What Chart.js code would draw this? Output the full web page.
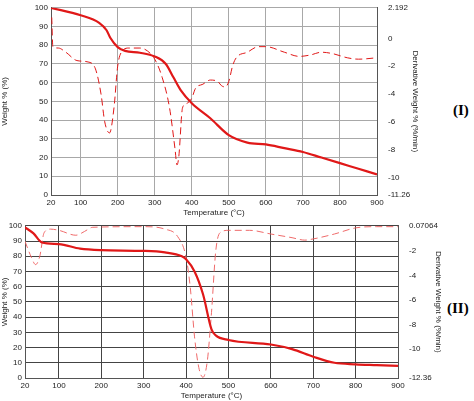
<!DOCTYPE html>
<html><head><meta charset="utf-8">
<script src="https://cdn.jsdelivr.net/npm/chart.js@4"></script>
<style>
body{margin:0;background:#fff;width:474px;height:401px;position:relative;overflow:hidden}
.c{position:absolute;left:0}
.lab{position:absolute;font:bold 15px "Liberation Serif",serif;color:#000}
</style></head><body>
<div class="c" style="top:0;width:420px;height:218px"><canvas id="c1"></canvas></div>
<div class="c" style="top:218px;width:443px;height:183px"><canvas id="c2"></canvas></div>
<div class="lab" style="left:453px;top:102px">(I)</div>
<div class="lab" style="left:447px;top:300px">(II)</div>
<script>
// Panel I
const wT1 = [20,100,150,170,180,200,220,260,300,330,350,370,400,450,500,550,600,650,700,750,800,850,900];
const wY1 = [100,96,92,88,84,79,77,76,74,70,63,56,49,41,32,28,27,25,23,20,17,14,11];
const dT1 = [22,25,40,60,90,120,140,155,165,178,190,200,210,230,260,280,300,320,340,355,360,365,375,385,400,410,430,450,470,480,490,500,510,520,550,580,600,650,690,720,750,780,820,850,900];
const dY1 = [1.5,-0.6,-0.7,-1.0,-1.6,-1.7,-2.2,-4,-6,-6.8,-5,-2,-1,-0.7,-0.7,-0.9,-1.5,-2.8,-5,-8,-9.1,-8.5,-5,-4.7,-4.3,-3.6,-3.3,-3.0,-3.1,-3.4,-3.5,-3.1,-2,-1.4,-1.0,-0.6,-0.6,-1.0,-1.3,-1.2,-1.0,-1.1,-1.4,-1.5,-1.4];
// Panel II
const wT2 = [20,40,60,100,150,200,300,350,390,400,420,440,460,470,500,600,650,700,750,800,850,900];
const wY2 = [99,95,89,88,85,84,83.5,82.5,80,78,70,55,32,28,25,22,19,14,10,9,8.5,8];
const dT2 = [20,35,45,55,65,80,100,140,160,180,300,350,380,400,410,420,430,440,450,460,470,480,500,550,600,650,680,700,750,800,850,900];
const dY2 = [-1.2,-2.5,-3.1,-2.4,-0.5,-0.2,-0.3,-0.7,-0.4,-0.05,0,-0.2,-0.8,-2.5,-5,-9,-11.5,-12.3,-11,-7,-2,-0.5,-0.3,-0.3,-0.6,-0.9,-1.1,-1.0,-0.6,-0.1,0,0];
const xTicks = [20,100,200,300,400,500,600,700,800,900];
const leftTicks = [0,10,20,30,40,50,60,70,80,90,100];

const red = '#e01818';
const f = {family:'"Liberation Sans", Arial, sans-serif', size:8};
const pts = (xs, ys) => xs.map((x,i)=>({x, y:ys[i]}));

function make(id, w, d, rmin, rmax, rticks, dims, gridCol, dashCol){
  new Chart(document.getElementById(id), {
    type:'line',
    data:{datasets:[
      {data:w, yAxisID:'y', borderColor:red, borderWidth:2.2, pointRadius:0, cubicInterpolationMode:'monotone'},
      {data:d, yAxisID:'y1', borderColor:dashCol, borderWidth:1, borderDash:[7,4], pointRadius:0, cubicInterpolationMode:'monotone'}
    ]},
    options:{
      responsive:true, maintainAspectRatio:false, animation:false,
      layout:{padding:{top:6,right:0,left:0,bottom:0}},
      plugins:{legend:{display:false}, tooltip:{enabled:false}},
      scales:{
        x:{type:'linear', min:20, max:900,
          afterBuildTicks:a=>{a.ticks=xTicks.map(v=>({value:v}))},
          afterFit:a=>{a.height=dims.xh},
          grid:{color:gridCol, drawTicks:false}, border:{color:'#555'},
          ticks:{font:f, color:'#222', maxRotation:0, padding:3},
          title:{display:true, text:'Temperature (°C)', font:f, color:'#222', padding:0}},
        y:{min:0, max:100, position:'left',
          afterBuildTicks:a=>{a.ticks=leftTicks.map(v=>({value:v}))},
          afterFit:a=>{a.width=dims.lw},
          grid:{color:gridCol, drawTicks:false}, border:{color:'#555'},
          ticks:{font:f, color:'#222', padding:3},
          title:{display:true, text:'Weight % (%)', font:f, color:'#222', padding:0}},
        y1:{min:rmin, max:rmax, position:'right',
          afterBuildTicks:a=>{a.ticks=rticks.map(v=>({value:v}))},
          afterFit:a=>{a.width=dims.rw},
          grid:{display:false}, border:{color:'#555'},
          ticks:{font:f, color:'#222', padding:3, callback:v=>String(v)},
          title:{display:true, text:'Derivative Weight % (%/min)', font:f, color:'#222', padding:0}}
      }
    }
  });
}

make('c1', pts(wT1,wY1), pts(dT1,dY1), -11.26, 2.192, [2.192,0,-2,-4,-6,-8,-10,-11.26],
  {xh:23, lw:51, rw:43}, '#a8a8a8', red);
make('c2', pts(wT2,wY2), pts(dT2,dY2), -12.36, 0.07064, [0.07064,-2,-4,-6,-8,-10,-12.36],
  {xh:23, lw:25, rw:45}, '#444', '#ef6a6a');
</script>
</body></html>
